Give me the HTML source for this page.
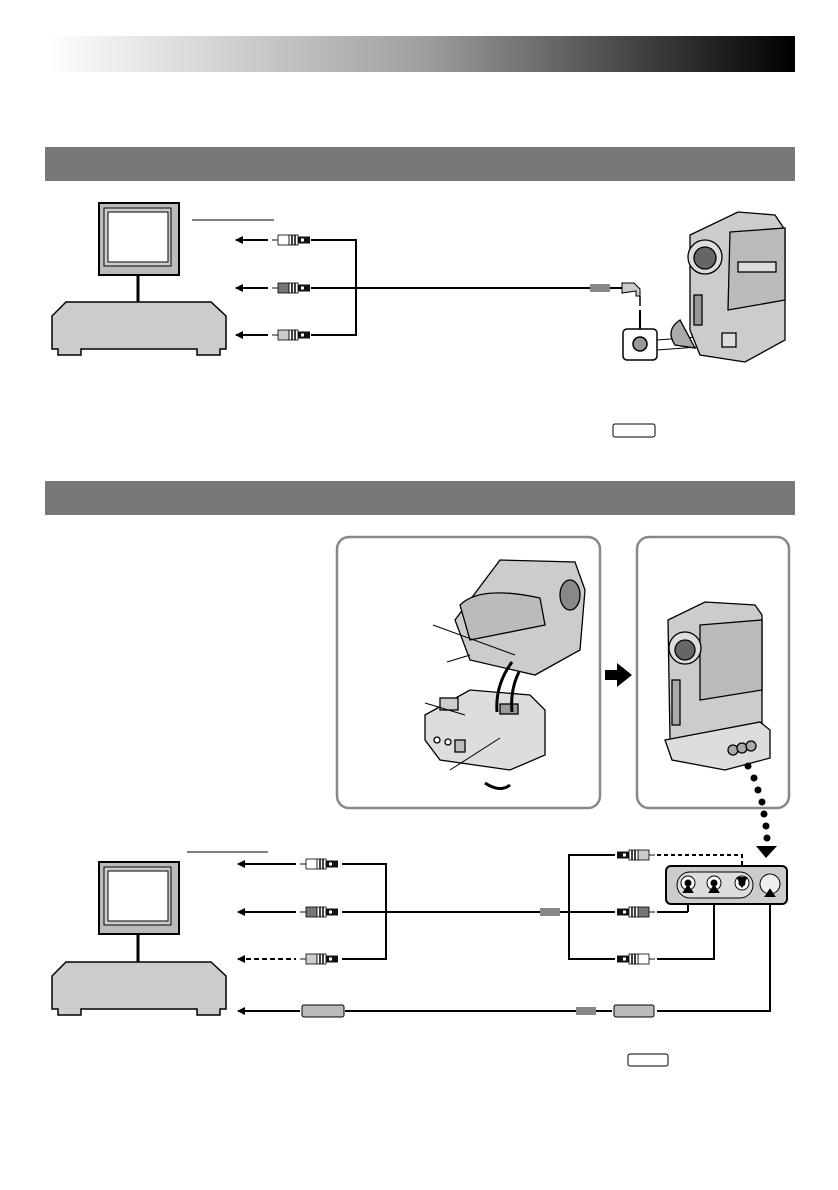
<!DOCTYPE html>
<html><head><meta charset="utf-8"><style>
html,body{margin:0;padding:0;background:#fff;}
svg{display:block;}
</style></head><body>
<svg width="838" height="1190" viewBox="0 0 838 1190" xmlns="http://www.w3.org/2000/svg">
<defs>
<linearGradient id="hg" x1="0" x2="1" y1="0" y2="0">
<stop offset="0" stop-color="#fff"/><stop offset="0.5" stop-color="#a0a0a0"/><stop offset="1" stop-color="#000"/>
</linearGradient>
<marker id="ah" markerWidth="8" markerHeight="8" refX="1" refY="4" orient="auto" markerUnits="userSpaceOnUse">
<path d="M8,0 L0,4 L8,8 Z" fill="#000"/></marker>
<g id="plugL">
<line x1="0" y1="0" x2="6" y2="0" stroke="#888" stroke-width="2"/>
<rect x="6" y="-5" width="11" height="10" fill="var(--c)" stroke="#000" stroke-width="0.8"/>
<rect x="17" y="-5" width="9" height="10" fill="#fff" stroke="#000" stroke-width="0.8"/>
<line x1="20" y1="-5" x2="20" y2="5" stroke="#000" stroke-width="1.5"/>
<line x1="23" y1="-5" x2="23" y2="5" stroke="#000" stroke-width="1.5"/>
<rect x="26" y="-3.5" width="12" height="7" fill="#111"/>
<rect x="29" y="-1.5" width="3" height="3" fill="#fff"/>
</g>
<g id="plugR">
<use href="#plugL" transform="scale(-1,1)"/>
</g>
</defs>

<!-- header -->
<rect x="45" y="36" width="750" height="36" fill="url(#hg)"/>
<!-- section bars -->
<rect x="45" y="147" width="750" height="34" fill="#787878"/>
<rect x="45" y="481" width="750" height="34" fill="#787878"/>

<!-- ===== Section 1 ===== -->
<g stroke="#000">
<rect x="99" y="203" width="80" height="72" fill="#bbb" stroke-width="2"/>
<rect x="104" y="208" width="67" height="58" fill="#ccc" stroke-width="1"/>
<rect x="108" y="212" width="60" height="50" fill="#fff" stroke-width="1"/>
<line x1="138" y1="276" x2="138" y2="302" stroke-width="3"/>
<path d="M66,302 L211,302 L226,316 L226,349 L220,349 L220,355 L197,355 L197,349 L81,349 L81,355 L58,355 L58,349 L52,349 L52,316 Z" fill="#ccc" stroke-width="1.5"/>
<line x1="192" y1="220" x2="274" y2="220" stroke-width="1"/>
<line x1="236" y1="240" x2="268" y2="240" stroke-width="2" marker-start="url(#ah)"/>
<line x1="236" y1="288" x2="268" y2="288" stroke-width="2" marker-start="url(#ah)"/>
<line x1="236" y1="335" x2="268" y2="335" stroke-width="2" marker-start="url(#ah)"/>
<polyline points="311,240 356,240 356,335 311,335" fill="none" stroke-width="2"/>
<line x1="311" y1="288" x2="590" y2="288" stroke-width="2"/>
</g>
<use href="#plugL" x="272" y="240" style="--c:#fff"/>
<use href="#plugL" x="272" y="288" style="--c:#777"/>
<use href="#plugL" x="272" y="335" style="--c:#ccc"/>
<rect x="590" y="284" width="20" height="8" fill="#888"/>
<line x1="610" y1="288" x2="622" y2="288" stroke="#000" stroke-width="2"/>
<path d="M622,283 L634,283 L640,289 L640,296 L636,296 L636,291 L622,293 Z" fill="#ccc" stroke="#000"/>
<line x1="640" y1="296" x2="640" y2="306" stroke="#000" stroke-width="1.5"/>
<line x1="640" y1="310" x2="640" y2="332" stroke="#000" stroke-width="2"/>
<path d="M635,330 L645,330 L640,338 Z"/>
<rect x="623" y="329" width="34" height="31" rx="4" fill="#fff" stroke="#000" stroke-width="1.5"/>
<circle cx="640" cy="344" r="7" fill="#999" stroke="#000" stroke-width="1.5"/>
<line x1="657" y1="340" x2="725" y2="335" stroke="#000"/>
<line x1="657" y1="350" x2="725" y2="345" stroke="#000"/>
<!-- camera 1 -->
<g stroke="#000" stroke-width="1.3">
<path d="M690,235 L738,212 L775,215 L785,230 L785,340 L745,362 L700,355 L690,330 Z" fill="#ccc"/>
<path d="M730,232 L785,228 L785,300 L728,310 Z" fill="#bbb"/>
<circle cx="705" cy="257" r="17" fill="#ddd"/>
<circle cx="705" cy="258" r="11" fill="#666"/>
<rect x="694" y="295" width="8" height="30" fill="#999"/>
<path d="M680,320 Q665,330 675,345 L695,348 Z" fill="#aaa"/>
<rect x="722" y="333" width="14" height="14" fill="#ddd"/>
<rect x="738" y="262" width="38" height="10" fill="#ddd"/>
</g>
<rect x="613" y="424" width="42" height="13" rx="2" fill="#fff" stroke="#000"/>

<!-- ===== Section 2 ===== -->
<rect x="337" y="537" width="263" height="271" rx="12" fill="#fff" stroke="#888" stroke-width="2.5"/>
<rect x="637" y="537" width="152" height="271" rx="12" fill="#fff" stroke="#888" stroke-width="2.5"/>
<!-- camera on dock (left inset) -->
<g stroke="#000" stroke-width="1.3">
<path d="M485,580 L500,560 L575,562 L585,590 L580,650 L535,675 L470,660 L455,620 Z" fill="#ccc"/>
<path d="M460,605 Q480,585 540,598 L545,625 L470,640 Z" fill="#bbb"/>
<ellipse cx="570" cy="595" rx="10" ry="15" fill="#888"/>
<path d="M425,715 L470,690 L530,695 L545,710 L545,755 L510,770 L440,760 L425,740 Z" fill="#ddd"/>
<rect x="440" y="698" width="18" height="12" fill="#ccc"/>
<circle cx="437" cy="740" r="3" fill="#fff"/><circle cx="448" cy="742" r="3" fill="#fff"/>
<rect x="455" y="740" width="10" height="12" fill="#bbb"/>
<rect x="500" y="704" width="18" height="10" fill="#999"/>
</g>
<g stroke="#000" stroke-width="3" fill="none">
<path d="M512,662 Q495,685 497,712"/><path d="M519,672 Q510,690 512,712"/>
<path d="M485,783 Q500,793 510,785"/>
</g>
<g stroke="#000" stroke-width="1">
<line x1="433" y1="625" x2="515" y2="655"/><line x1="447" y1="662" x2="470" y2="655"/>
<line x1="425" y1="703" x2="465" y2="715"/><line x1="450" y1="770" x2="500" y2="738"/>
</g>
<path d="M605,670 L617,670 L617,663 L632,675 L617,687 L617,680 L605,680 Z" fill="#000"/>
<!-- camera 2 -->
<g stroke="#000" stroke-width="1.3">
<path d="M668,620 L705,602 L755,605 L762,615 L762,735 L715,748 L670,740 Z" fill="#ccc"/>
<path d="M700,625 L762,620 L762,690 L700,700 Z" fill="#bbb"/>
<circle cx="685" cy="648" r="16" fill="#ddd"/><circle cx="685" cy="650" r="10" fill="#666"/>
<path d="M665,740 L760,722 L770,730 L770,758 L725,770 L672,760 Z" fill="#ddd"/>
<circle cx="733" cy="750" r="5" fill="#aaa"/><circle cx="742" cy="748" r="5" fill="#aaa"/><circle cx="751" cy="746" r="5" fill="#aaa"/>
<rect x="672" y="680" width="8" height="45" fill="#aaa"/>
</g>
<!-- dotted line -->
<g fill="#000">
<circle cx="748" cy="766" r="3.5"/><circle cx="754" cy="778" r="3.5"/><circle cx="758" cy="790" r="3.5"/><circle cx="762" cy="802" r="3.5"/><circle cx="764" cy="814" r="3.5"/><circle cx="766" cy="826" r="3.5"/><circle cx="767" cy="838" r="3.5"/>
<path d="M756,846 L777,846 L766,858 Z"/>
</g>

<!-- TV2 -->
<g stroke="#000">
<rect x="99" y="862" width="80" height="72" fill="#bbb" stroke-width="2"/>
<rect x="104" y="867" width="67" height="58" fill="#ccc" stroke-width="1"/>
<rect x="108" y="871" width="60" height="50" fill="#fff" stroke-width="1"/>
<line x1="138" y1="935" x2="138" y2="962" stroke-width="3"/>
<path d="M66,962 L211,962 L226,976 L226,1009 L220,1009 L220,1015 L197,1015 L197,1009 L81,1009 L81,1015 L58,1015 L58,1009 L52,1009 L52,976 Z" fill="#ccc" stroke-width="1.5"/>
<line x1="187" y1="852" x2="268" y2="852" stroke-width="1"/>
<line x1="238" y1="864" x2="296" y2="864" stroke-width="2" marker-start="url(#ah)"/>
<line x1="238" y1="912" x2="296" y2="912" stroke-width="2" marker-start="url(#ah)"/>
<line x1="238" y1="959" x2="296" y2="959" stroke-width="2" stroke-dasharray="5,3" marker-start="url(#ah)"/>
<polyline points="342,864 386,864 386,959 342,959" fill="none" stroke-width="2"/>
<line x1="342" y1="912" x2="615" y2="912" stroke-width="2"/>
<polyline points="615,855 569,855 569,959 615,959" fill="none" stroke-width="2"/>
<line x1="238" y1="1011" x2="300" y2="1011" stroke-width="2" marker-start="url(#ah)"/>
<line x1="345" y1="1011" x2="612" y2="1011" stroke-width="2"/>
<polyline points="657,1011 770,1011 770,900" fill="none" stroke-width="2"/>
<line x1="657" y1="912" x2="688" y2="912" stroke-width="2"/>
<line x1="688" y1="912" x2="688" y2="888" stroke-width="2"/>
<polyline points="657,959 714,959 714,888" fill="none" stroke-width="2"/>
<polyline points="657,855 742,855 742,880" fill="none" stroke-width="2" stroke-dasharray="4,3"/>
</g>
<use href="#plugL" x="300" y="864" style="--c:#fff"/>
<use href="#plugL" x="300" y="912" style="--c:#777"/>
<use href="#plugL" x="300" y="959" style="--c:#ccc"/>
<use href="#plugR" x="655" y="855" style="--c:#ccc"/>
<use href="#plugR" x="655" y="912" style="--c:#777"/>
<use href="#plugR" x="655" y="959" style="--c:#fff"/>
<rect x="540" y="908" width="20" height="8" fill="#888"/>
<rect x="576" y="1007" width="20" height="8" fill="#888"/>
<g stroke="#000" fill="#bbb">
<rect x="302" y="1005" width="42" height="12" rx="2"/>
<rect x="614" y="1005" width="40" height="12" rx="2"/>
</g>
<!-- jack panel -->
<rect x="666" y="866" width="121" height="38" rx="5" fill="#ccc" stroke="#000" stroke-width="2"/>
<rect x="677" y="872" width="76" height="26" rx="13" fill="#ddd" stroke="#000"/>
<g stroke="#000" fill="#fff">
<circle cx="688" cy="883" r="7"/><circle cx="688" cy="883" r="3" fill="#000"/>
<circle cx="714" cy="883" r="7"/><circle cx="714" cy="883" r="3" fill="#000"/>
<circle cx="742" cy="883" r="7"/><circle cx="742" cy="883" r="3" fill="#000"/>
<circle cx="770" cy="884" r="10" fill="#eee"/>
</g>
<g stroke="#000" stroke-width="2" fill="#000">
<path d="M684,892 L692,892 L688,886 Z"/><path d="M710,892 L718,892 L714,886 Z"/>
<path d="M738,878 L746,878 L742,886 Z"/><path d="M766,896 L774,896 L770,890 Z"/>
</g>
<rect x="628" y="1054" width="40" height="12" rx="2" fill="#fff" stroke="#000"/>
</svg>
</body></html>
